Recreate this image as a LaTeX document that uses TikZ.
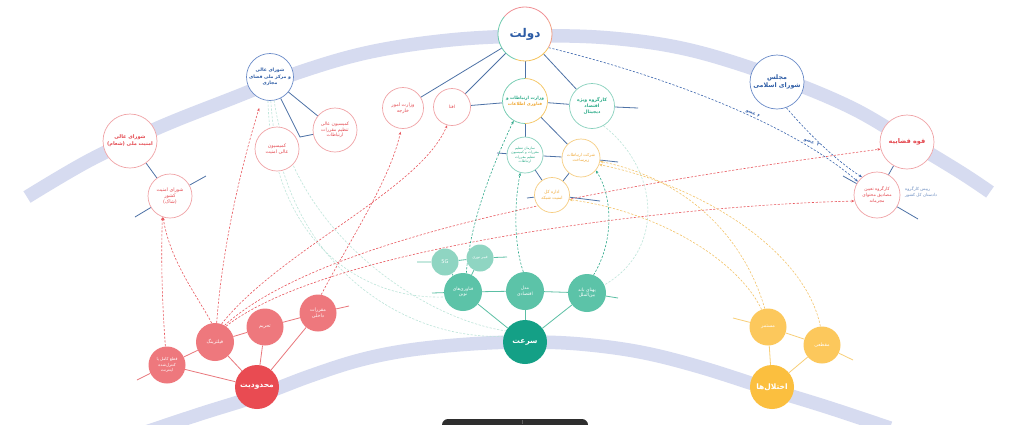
\documentclass[tikz,border=0pt]{standalone}
\usepackage{fontspec}
\newfontfamily\fa[Script=Arabic]{DejaVu Sans}
\TeXXeTstate=1
\usetikzlibrary{arrows.meta}
\newcommand{\myR}[1]{\beginR#1\endR}
\newcommand{\fsz}[2]{\fontsize{#1}{#2}\selectfont}
\definecolor{band}{HTML}{D6DBF0}
\definecolor{lnk}{HTML}{4E72A6}
\definecolor{rbd}{HTML}{F0A3A6}
\definecolor{rtx}{HTML}{E4474E}
\definecolor{bbd}{HTML}{6A8BC8}
\definecolor{btx}{HTML}{2E5DA6}
\definecolor{gbd}{HTML}{86D0BC}
\definecolor{gtx}{HTML}{2AAB88}
\definecolor{obd}{HTML}{F6CD82}
\definecolor{otx}{HTML}{F0A936}
\definecolor{rdsh}{HTML}{E8585F}
\definecolor{gdsh}{HTML}{2FA98B}
\definecolor{fdsh}{HTML}{BDE5DA}
\definecolor{ydsh}{HTML}{F4C46A}
\definecolor{bdsh}{HTML}{3C66AE}
\definecolor{rdeep}{HTML}{E94B52}
\definecolor{rsoft}{HTML}{EE787D}
\definecolor{rlnk}{HTML}{E9777C}
\definecolor{tdeep}{HTML}{14A086}
\definecolor{tsoft}{HTML}{5CC3A8}
\definecolor{tlight}{HTML}{8FD5C2}
\definecolor{tlnk}{HTML}{5BBFA4}
\definecolor{ydeep}{HTML}{FBBF3F}
\definecolor{ysoft}{HTML}{FCC85C}
\definecolor{ylnk}{HTML}{F8CF78}
\definecolor{lbl}{HTML}{6A8CC0}
\definecolor{darkbar}{HTML}{2E2E2E}
\definecolor{ringr}{HTML}{F08E93}
\definecolor{ringg}{HTML}{6CC9AD}
\definecolor{ringy}{HTML}{F5C35C}
\pgfdeclarelayer{bgband}
\pgfdeclarelayer{bglines}
\pgfsetlayers{bgband,bglines,main}
\tikzset{
  ring/.style={circle, line width=0.7pt, fill=white, inner sep=0pt, align=center},
  rring/.style={ring, draw=rbd, text=rtx},
  bring/.style={ring, draw=bbd, text=btx},
  gring/.style={ring, draw=gbd, text=gtx},
  oring/.style={ring, draw=obd, text=otx},
  disc/.style={circle, inner sep=0pt, align=center, text=white},
  link/.style={draw=lnk, line width=0.8pt},
  rlink/.style={draw=rlnk, line width=0.8pt},
  tlink/.style={draw=tlnk, line width=0.8pt},
  ylink/.style={draw=ylnk, line width=0.8pt},
  dsh/.style={line width=0.6pt, dash pattern=on 2.2pt off 1.6pt},
  tip/.style={-{Stealth[length=3.2pt,width=2.6pt]}},
  rdash/.style={dsh, tip, draw=rdsh},
  gdash/.style={dsh, tip, draw=gdsh},
  ydash/.style={dsh, tip, draw=ydsh},
  bdash/.style={dsh, tip, draw=bdsh},
  fdash/.style={dsh, draw=fdsh},
  bandline/.style={draw=band, line width=13.5pt, line cap=butt},
  elabel/.style={inner sep=1pt, text=bdsh, font=\fa\bfseries\fsz{4.5}{5.5}}
}
\begin{document}
\begin{tikzpicture}[x=1pt,y=-1pt]
\useasboundingbox (0,0) rectangle (1024,424);
\begin{pgfonlayer}{bgband}
\fill[white] (0,0) rectangle (1024,424);
\draw[bandline] plot[smooth, tension=0.6] coordinates {(27,197) (90,160) (160,127) (233,98) (300,72) (370,52) (450,40) (530,36) (610,38) (690,50) (777,77) (850,107) (907,140) (960,172) (990,192)};
\draw[bandline] plot[smooth, tension=0.6] coordinates {(140,434) (200,414) (257,396) (310,376) (360,360) (410,350) (470,344) (525,342) (580,344) (640,352) (700,367) (772,390) (830,408) (890,428)};
\end{pgfonlayer}

% ---------- top: government ----------
\node[ring, minimum size=54pt, text=btx, font=\fa\bfseries\fsz{12}{14}] (dolat) at (525,34) {\myR{دولت}};
\draw[ringr, line width=0.8pt] (dolat.center) ++(-30:27) arc (-30:-140:27);
\draw[ringg, line width=0.8pt] (dolat.center) ++(-140:27) arc (-140:-250:27);
\draw[ringy, line width=0.8pt] (dolat.center) ++(-250:27) arc (-250:-330:27);
\draw[ringr!70!ringy, line width=0.8pt] (dolat.center) ++(-330:27) arc (-330:-390:27);

\node[ring, minimum size=45pt, font=\fa\bfseries\fsz{4.3}{6}] (vict) at (525,101) {\textcolor{gtx}{\myR{وزارت ارتباطات و}}\\\textcolor{otx}{\myR{فناوری اطلاعات}}};
\draw[ringg, line width=0.7pt] (vict.center) ++(-90:22.5) arc (-90:-270:22.5);
\draw[ringy, line width=0.7pt] (vict.center) ++(-270:22.5) arc (-270:-450:22.5);

\node[gring, minimum size=45pt, font=\fa\bfseries\fsz{4.6}{6.2}] (karg) at (592,106) {\myR{کارگروه ویژه}\\\myR{اقتصاد}\\\myR{دیجیتال}};
\node[rring, minimum size=37pt, font=\fa\fsz{4.5}{5.5}] (afta) at (452,107) {\myR{افتا}};
\node[rring, minimum size=41pt, font=\fa\fsz{4.8}{6}] (kharej) at (403,108) {\myR{وزارت امور}\\\myR{خارجه}};
\node[gring, minimum size=36pt, font=\fa\fsz{3.4}{4.3}] (saz) at (525,155) {\myR{سازمان تنظیم}\\\myR{مقررات و کمیسیون}\\\myR{تنظیم مقررات}\\\myR{ارتباطات}};
\node[oring, minimum size=38pt, font=\fa\fsz{4.1}{5.4}] (sherkat) at (581,158) {\myR{شرکت ارتباطات}\\\myR{زیرساخت}};
\node[oring, minimum size=35pt, font=\fa\fsz{4.3}{5.5}] (edare) at (552,195) {\myR{اداره کل}\\\myR{امنیت شبکه}};

% ---------- top left ----------
\node[bring, minimum size=47pt, font=\fa\bfseries\fsz{4.6}{6.2}] (shora) at (270,77) {\myR{شورای عالی}\\\myR{و مرکز ملی فضای}\\\myR{مجازی}};
\node[rring, minimum size=44pt, font=\fa\fsz{4.6}{5.8}] (komt) at (335,130) {\myR{کمیسیون عالی}\\\myR{تنظیم مقررات}\\\myR{ارتباطات}};
\node[rring, minimum size=44pt, font=\fa\fsz{4.8}{6}] (koma) at (277,149) {\myR{کمیسیون}\\\myR{عالی امنیت}};
\node[rring, minimum size=54pt, font=\fa\bfseries\fsz{5}{7}] (shoam) at (130,141) {\myR{شورای عالی}\\\myR{امنیت ملی (شعام)}};
\node[rring, minimum size=44pt, font=\fa\fsz{4.8}{6}] (shak) at (170,196) {\myR{شورای امنیت}\\\myR{کشور}\\\myR{(شاک)}};

% ---------- top right ----------
\node[bring, minimum size=54pt, font=\fa\bfseries\fsz{6.3}{8.2}] (majles) at (777,82) {\myR{مجلس}\\\myR{شورای اسلامی}};
\node[rring, minimum size=54pt, font=\fa\bfseries\fsz{6.5}{8}] (ghove) at (907,142) {\myR{قوه قضاییه}};
\node[rring, minimum size=46pt, font=\fa\fsz{4.4}{5.6}] (kart) at (877,195) {\myR{کارگروه تعیین}\\\myR{مصادیق محتوای}\\\myR{مجرمانه}};
\node[anchor=west, align=left, inner sep=0pt, text=lbl, font=\fa\fsz{4.2}{5.6}] (rais) at (905,192) {\myR{رییس کارگروه}\\\myR{دادستان کل کشور}};

% ---------- bottom: restriction ----------
\node[disc, fill=rdeep, minimum size=44pt, font=\fa\bfseries\fsz{7.5}{9}] (mahd) at (257,387) {\myR{محدودیت}};
\node[disc, fill=rsoft, minimum size=37pt, font=\fa\fsz{4.1}{5.1}] (ghat) at (167,365) {\myR{قطع کامل یا}\\\myR{کنترل‌شده}\\\myR{اینترنت}};
\node[disc, fill=rsoft, minimum size=38pt, font=\fa\fsz{4.8}{5.8}] (filter) at (215,342) {\myR{فیلترینگ}};
\node[disc, fill=rsoft, minimum size=37pt, font=\fa\fsz{4.8}{5.8}] (tahrim) at (265,327) {\myR{تحریم}};
\node[disc, fill=rsoft, minimum size=37pt, font=\fa\fsz{4.8}{5.8}] (moghar) at (318,313) {\myR{مقررات}\\\myR{داخلی}};

% ---------- bottom: speed ----------
\node[disc, fill=tdeep, minimum size=44pt, font=\fa\bfseries\fsz{7.5}{9}] (sorat) at (525,342) {\myR{سرعت}};
\node[disc, fill=tsoft, minimum size=38pt, font=\fa\fsz{4.6}{5.6}] (fanav) at (463,292) {\myR{فناوری‌های}\\\myR{نوین}};
\node[disc, fill=tsoft, minimum size=38pt, font=\fa\fsz{4.6}{5.6}] (model) at (525,291) {\myR{مدل}\\\myR{اقتصادی}};
\node[disc, fill=tsoft, minimum size=38pt, font=\fa\fsz{4.6}{5.6}] (pahna) at (587,293) {\myR{پهنای باند}\\\myR{بین‌الملل}};
\node[disc, fill=tlight, minimum size=27pt, font=\fa\fsz{5}{6}] (fiveg) at (445,262) {5G};
\node[disc, fill=tlight, minimum size=27pt, font=\fa\fsz{3.8}{4.8}] (fiber) at (480,258) {\myR{فیبر نوری}};

% ---------- bottom: disruption ----------
\node[disc, fill=ydeep, minimum size=44pt, font=\fa\bfseries\fsz{7.5}{9}] (ekhtel) at (772,387) {\myR{اختلال‌ها}};
\node[disc, fill=ysoft, minimum size=37pt, font=\fa\fsz{4.8}{5.8}] (mostamar) at (768,327) {\myR{مستمر}};
\node[disc, fill=ysoft, minimum size=37pt, font=\fa\fsz{4.8}{5.8}] (maghtai) at (822,345) {\myR{مقطعی}};

% free ends
\coordinate (krr) at (638,108);
\coordinate (sl) at (497,153);
\coordinate (sr) at (618,162);
\coordinate (el) at (527,198);
\coordinate (er) at (600,201);
\coordinate (kj) at (300,137);
\coordinate (shl) at (135,217);
\coordinate (shr) at (206,176);
\coordinate (ktl) at (843,176);
\coordinate (ktr) at (918,219);
\coordinate (rl0) at (137,380);
\coordinate (rr0) at (349,306);
\coordinate (tl0) at (432,293);
\coordinate (tr0) at (618,298);
\coordinate (tl1) at (417,262);
\coordinate (tr1) at (507,257);
\coordinate (yl0) at (733,318);
\coordinate (yr0) at (853,360);

\begin{pgfonlayer}{bglines}
% solid links top
\draw[link] (dolat) -- (kharej);
\draw[link] (dolat) -- (afta);
\draw[link] (dolat) -- (vict);
\draw[link] (dolat) -- (karg);
\draw[link] (afta) -- (vict) -- (karg) -- (krr);
\draw[link] (vict) -- (saz);
\draw[link] (vict) -- (sherkat);
\draw[link] (sl) -- (saz) -- (sherkat) -- (sr);
\draw[link] (saz) -- (edare);
\draw[link] (sherkat) -- (edare);
\draw[link] (el) -- (edare) -- (er);
\draw[link] (shora) -- (komt);
\draw[link] (shora) -- (kj) -- (komt);
\draw[link] (shoam) -- (shak);
\draw[link] (shl) -- (shak) -- (shr);
\draw[link] (ghove) -- (kart);
\draw[link] (ktl) -- (kart) -- (ktr);
% bottom clusters
\draw[rlink] (rl0) -- (ghat) -- (filter) -- (tahrim) -- (moghar) -- (rr0);
\draw[rlink] (mahd) -- (ghat);
\draw[rlink] (mahd) -- (filter);
\draw[rlink] (mahd) -- (tahrim);
\draw[rlink] (mahd) -- (moghar);
\draw[tlink] (tl0) -- (fanav) -- (model) -- (pahna) -- (tr0);
\draw[tlink] (tl1) -- (fiveg) -- (fiber) -- (tr1);
\draw[tlink] (fiveg) -- (fanav);
\draw[tlink] (fiber) -- (fanav);
\draw[tlink] (sorat) -- (fanav);
\draw[tlink] (sorat) -- (model);
\draw[tlink] (sorat) -- (pahna);
\draw[ylink] (yl0) -- (mostamar) -- (maghtai) -- (yr0);
\draw[ylink] (ekhtel) -- (mostamar);
\draw[ylink] (ekhtel) -- (maghtai);
% faint teal dashed
\draw[fdash] (karg.300) .. controls (660,170) and (665,250) .. (pahna.25);
\draw[fdash] (shora.265) .. controls (272,240) and (360,300) .. (fanav.195);
\draw[fdash] (shora.272) .. controls (280,260) and (400,340) .. (sorat.165);
\draw[fdash] (shora.280) .. controls (292,230) and (420,318) .. (sorat.150);
% red dashed
\draw[rdash] (ghat.95) .. controls (162,300) and (161,260) .. (shak.250);
\draw[rdash] (filter.100) .. controls (200,300) and (170,262) .. (shak.252);
\draw[rdash, shorten >=9pt] (filter.85) .. controls (222,250) and (240,170) .. (shora.250);
\draw[rdash] (filter.70) .. controls (280,250) and (420,190) .. (afta.255);
\draw[rdash, shorten >=3pt] (moghar.80) .. controls (350,240) and (390,180) .. (kharej.265);
\draw[rdash] (filter.60) .. controls (330,230) and (650,180) .. (ghove.195);
\draw[rdash] (filter.55) .. controls (330,245) and (680,205) .. (kart.195);
% green dashed
\draw[gdash] (fanav.80) .. controls (470,220) and (495,160) .. (vict.240);
\draw[gdash] (model.95) .. controls (514,245) and (514,205) .. (saz.255);
\draw[gdash] (pahna.70) .. controls (615,240) and (612,195) .. (sherkat.320);
% yellow dashed
\draw[ydash] (mostamar.100) .. controls (745,240) and (690,180) .. (sherkat.350);
\draw[ydash] (maghtai.95) .. controls (805,250) and (700,185) .. (sherkat.340);
\draw[ydash] (mostamar.110) .. controls (735,255) and (650,210) .. (edare.345);
% blue dashed with labels
\draw[bdash] (dolat.330) .. controls (640,70) and (780,115) .. (kart.145)
  node[pos=0.63, sloped, above, elabel] (lab6) {\myR{۶ عضو}};
\draw[bdash] (majles.290) .. controls (805,130) and (835,160) .. (kart.130)
  node[pos=0.52, left=2pt, rotate=-20, elabel] (lab2) {\myR{۲\hspace{1.5pt} عضو}};
\end{pgfonlayer}

% dark bar at the bottom edge
\fill[darkbar, rounded corners=6pt] (442,419) rectangle (588,440);
\draw[gray!60!darkbar, line width=0.5pt] (522,420) -- (522,424);
\end{tikzpicture}
\end{document}
